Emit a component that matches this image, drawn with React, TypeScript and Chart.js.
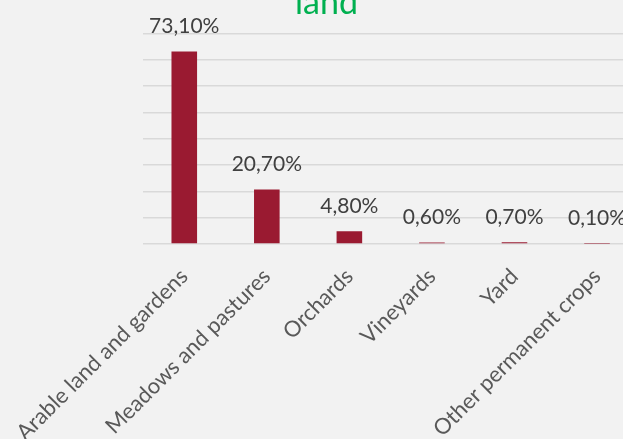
import React, { useEffect, useRef } from "react";
import { Chart, registerables } from "chart.js";

Chart.register(...registerables);

const categories = [
  "Arable land and gardens",
  "Meadows and pastures",
  "Orchards",
  "Vineyards",
  "Yard",
  "Other permanent crops",
];
const shares = [73.1, 20.7, 4.8, 0.6, 0.7, 0.1];
const titleText = "land";
const yMin = 0;
const yMax = 80;
const yStep = 10;

const FONT = "Lato, 'Open Sans', sans-serif";

const valueLabels = {
  id: "valueLabels",
  afterDatasetsDraw(chart: any) {
    const ctx = chart.ctx;
    const meta = chart.getDatasetMeta(0);
    ctx.save();
    ctx.font = `21px ${FONT}`;
    ctx.fillStyle = "#404040";
    ctx.textAlign = "center";
    ctx.textBaseline = "alphabetic";
    meta.data.forEach((bar: any, i: number) => {
      const v = shares[i];
      const txt = v.toFixed(2).replace(".", ",") + "%";
      ctx.fillText(txt, bar.x, bar.y - 18.5);
    });
    ctx.restore();
  },
};

export default function App() {
  const ref = useRef<HTMLCanvasElement | null>(null);
  useEffect(() => {
    if (!ref.current) return;
    const chart = new Chart(ref.current, {
      type: "bar",
      data: {
        labels: categories,
        datasets: [
          {
            data: shares,
            backgroundColor: "#9a1a31",
            categoryPercentage: 1,
            barPercentage: 0.31,
          },
        ],
      },
      options: {
        animation: false,
        responsive: false,
        devicePixelRatio: 1,
        layout: { padding: 0 },
        plugins: {
          legend: { display: false },
          tooltip: { enabled: false },
          title: {
            display: true,
            text: titleText,
            color: "#00b050",
            font: { family: FONT, size: 34, weight: "normal", lineHeight: 1.2 },
            padding: { top: 0, bottom: 9.6 },
          },
        },
        scales: {
          x: {
            grid: { display: false, drawTicks: false },
            border: { display: false },
            ticks: {
              color: "#595959",
              font: { family: FONT, size: 22 },
              minRotation: 45,
              maxRotation: 45,
              autoSkip: false,
              padding: 19.5,
            },
            afterFit: (s: any) => {
              s.height = 195;
              s.paddingLeft = 0;
              s.paddingRight = 0;
            },
          },
          y: {
            min: yMin,
            max: yMax,
            ticks: { display: false, stepSize: yStep },
            grid: { color: "#d9d9d9", lineWidth: 1.5, drawTicks: false },
            border: { display: false },
            afterFit: (s: any) => {
              s.width = 143;
              s.paddingTop = 0;
              s.paddingBottom = 0;
            },
          },
          y2: {
            position: "right",
            display: true,
            grid: { display: false, drawTicks: false },
            ticks: { display: false },
            border: { display: false },
            afterFit: (s: any) => {
              s.width = 14.7;
              s.paddingTop = 0;
              s.paddingBottom = 0;
            },
          },
        },
      },
      plugins: [valueLabels],
    });
    return () => chart.destroy();
  }, []);
  return (
    <div
      style={{
        position: "fixed",
        left: 0,
        top: 0,
        width: 623,
        height: 439,
        overflow: "hidden",
        background: "#f2f2f2",
      }}
    >
      <div style={{ position: "absolute", left: 0, top: -17, width: 653, height: 456 }}>
        <canvas ref={ref} width={653} height={456} />
      </div>
    </div>
  );
}
